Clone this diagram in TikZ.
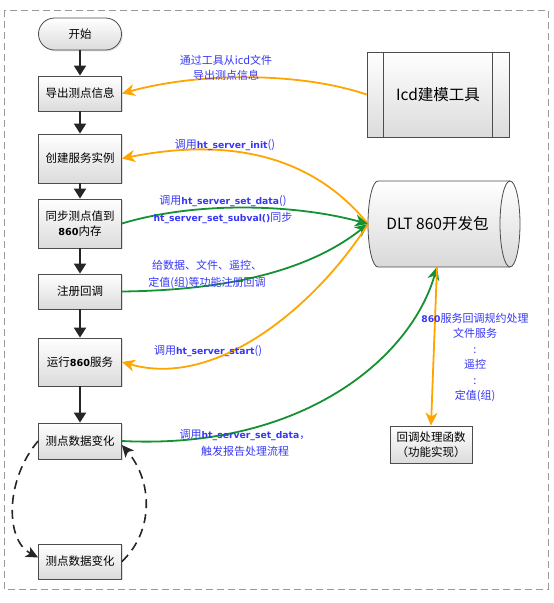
\documentclass[tikz,border=0pt]{standalone}
\usepackage{fontspec}
\setmainfont{Noto Sans CJK SC}
\newfontfamily\latb{DejaVu Sans}[Scale=0.84]
\usetikzlibrary{arrows.meta,shadows}
\definecolor{lblue}{RGB}{55,55,245}
\definecolor{aorange}{RGB}{255,165,0}
\definecolor{agreen}{RGB}{20,145,50}
\newcommand{\hx}[1]{{\latb\bfseries #1}}
\begin{document}
\begin{tikzpicture}[x=1pt,y=-1pt,
  flowbox/.style={draw=black!70, line width=0.8pt, top color=white, bottom color=black!14,
    minimum width=83pt, inner sep=2pt, font=\fontsize{11.5}{15}\selectfont,
    drop shadow={opacity=0.25, shadow xshift=1.3pt, shadow yshift=-1.3pt}},
  flowarrow/.style={black!85, line width=2pt, -{Triangle[length=10pt,width=12pt]}},
  oarrow/.style={aorange, line width=1.8pt, -{Stealth[length=13pt,width=12pt,inset=4pt]}},
  garrow/.style={agreen, line width=1.8pt, -{Stealth[length=13pt,width=12pt,inset=4pt]}},
  dasharrow/.style={black!85, line width=1.6pt, dash pattern=on 9pt off 6pt, -{Stealth[length=12pt,width=11pt,inset=3pt]}},
  lbl/.style={text=lblue, font=\fontsize{11}{15}\selectfont, inner sep=0pt, align=center},
  boxline/.style={draw=black!70, line width=0.8pt}]
\useasboundingbox (0,0) rectangle (554,603);
\draw[black!40, line width=0.9pt, dash pattern=on 7pt off 4pt] (4,10) rectangle (548,589);

% left flow
\node[flowbox, rounded corners=16pt, minimum height=32pt] (start) at (80,34) {开始};
\node[flowbox, minimum height=35pt] (n1) at (80,93.5) {导出测点信息};
\node[flowbox, minimum height=49pt] (n2) at (80,158.5) {创建服务实例};
\node[flowbox, minimum height=49pt, align=center] (n3) at (80,223.5) {同步测点值到\\\hx{860}内存};
\node[flowbox, minimum height=35pt] (n4) at (80,291.5) {注册回调};
\node[flowbox, minimum height=48pt] (n5) at (80,362) {运行\hx{860}服务};
\node[flowbox, minimum height=36pt] (n6) at (80,441) {测点数据变化};
\node[flowbox, minimum height=35pt] (n7) at (80,561.5) {测点数据变化};

\draw[flowarrow] (start) -- (n1);
\draw[flowarrow] (n1) -- (n2);
\draw[flowarrow] (n2) -- (n3);
\draw[flowarrow] (n3) -- (n4);
\draw[flowarrow] (n4) -- (n5);
\draw[flowarrow] (n5) -- (n6);

% Icd tool
\node[flowbox, minimum width=142pt, minimum height=85pt, font=\fontsize{15.5}{18}\selectfont] (icd) at (438,94.5) {Icd建模工具};
\draw[boxline] ([xshift=17pt]icd.north west) -- ([xshift=17pt]icd.south west);
\draw[boxline] ([xshift=-17pt]icd.north east) -- ([xshift=-17pt]icd.south east);

% DLT cylinder
\shade[top color=white, bottom color=black!15, draw=black!70, line width=0.8pt]
  (378,181) -- (510,181)
  .. controls (515.5,181) and (520,200.3) .. (520,224)
  .. controls (520,247.7) and (515.5,267) .. (510,267)
  -- (378,267)
  .. controls (372.5,267) and (368,247.7) .. (368,224)
  .. controls (368,200.3) and (372.5,181) .. (378,181) -- cycle;
\draw[boxline] (510,181) .. controls (504.5,181) and (500,200.3) .. (500,224)
  .. controls (500,247.7) and (504.5,267) .. (510,267);
\node[font=\fontsize{15.5}{18}\selectfont, inner sep=0pt] (dlt) at (437.5,224) {DLT 860开发包};
\coordinate (dltL) at (368,224);
\coordinate (dltB) at (437,267);

% callback box
\node[flowbox, minimum width=82pt, minimum height=37pt, align=center, font=\fontsize{11.5}{15}\selectfont] (cb) at (431,444.5) {回调处理函数\\（功能实现）};

% connectors
\draw[oarrow] (icd.west) .. controls (300,72) and (200,72) .. (n1.east);
\draw[oarrow] (dltL) .. controls (300,140) and (200,143) .. (n2.east);
\draw[garrow] (n3.east) .. controls (200,200) and (300,205) .. (dltL);
\draw[garrow] (n4.east) .. controls (250,290) and (320,262) .. (dltL);
\draw[oarrow] (dltL) .. controls (320,300) and (220,390) .. (n5.east);
\draw[garrow] (n6.east) .. controls (300,450) and (410,360) .. (dltB);
\draw[oarrow] (dltB) -- (cb.north);

\draw[dasharrow] (n6.west) .. controls (5,480) and (5,540) .. ([yshift=4pt]n7.west);
\draw[dasharrow] (n7.east) .. controls (155,530) and (152,480) .. ([yshift=-4pt]n6.east);

% labels
\node[lbl] (l1) at (226,67.5) {通过工具从icd文件\\导出测点信息};
\node[lbl] (l2) at (225,145) {调用\hx{ht\_server\_init}()};
\node[lbl, font=\fontsize{11}{17}\selectfont] (l3) at (223,210) {调用\hx{ht\_server\_set\_data}()\\\hx{ht\_server\_set\_subval()}同步};
\node[lbl, font=\fontsize{11}{17}\selectfont] (l4) at (207,274.5) {给数据、文件、遥控、\\定值(组)等功能注册回调};
\node[lbl] (l5) at (208,351) {调用\hx{ht\_server\_start}()};
\node[lbl, font=\fontsize{11}{17}\selectfont] (l6) at (245,443) {调用\hx{ht\_server\_set\_data}，\\触发报告处理流程};
\node[lbl, font=\fontsize{11}{15.4}\selectfont] (l7) at (475,357.5) {\hx{860}服务回调规约处理\\文件服务\\:\\遥控\\:\\定值(组)};
\end{tikzpicture}
\end{document}
